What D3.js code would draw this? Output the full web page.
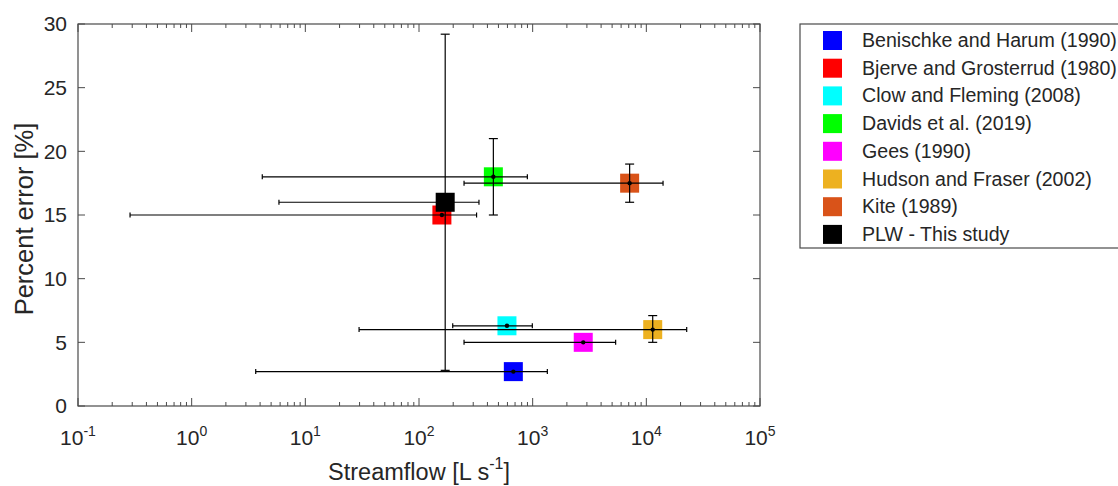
<!DOCTYPE html>
<html>
<head>
<meta charset="utf-8">
<script src="https://d3js.org/d3.v7.min.js"></script>
<style>
  body { margin: 0; background: #fff; }
  svg text { font-family: "Liberation Sans", Arial, sans-serif; fill: #262626; }
</style>
</head>
<body>
<svg id="chart" width="1118" height="486"></svg>
<script>
// data
var studies = ["Benischke and Harum (1990)", "Bjerve and Grosterrud (1980)", "Clow and Fleming (2008)",
  "Davids et al. (2019)", "Gees (1990)", "Hudson and Fraser (2002)", "Kite (1989)", "PLW - This study"];
var colors = ["#0000ff", "#ff0000", "#00ffff", "#00ff00", "#ff00ff", "#edb120", "#d95319", "#000000"];
var flow   = [676, 159, 594, 451, 2786, 11380, 7130, 170];
var flowLo = [3.66, 0.287, 198, 4.18, 249, 29.7, 249, 5.86];
var flowHi = [1346, 321, 993, 898, 5370, 22650, 14030, 337];
var pctErr = [2.7, 15.0, 6.3, 18.0, 5.0, 6.0, 17.5, 16.0];
var pctLo  = [2.7, 15.0, 6.3, 15.0, 5.0, 5.0, 16.0, 2.8];
var pctHi  = [2.7, 15.0, 6.3, 21.0, 5.0, 7.1, 19.0, 29.2];
var xTicks = [-1, 0, 1, 2, 3, 4, 5];
var yTicks = [0, 5, 10, 15, 20, 25, 30];

var margin = {left: 78, top: 24},
    width = 760 - 78,
    height = 406 - 24;

var svg = d3.select("#chart");
var g = svg.append("g").attr("transform", "translate(" + margin.left + "," + margin.top + ")");

var x = d3.scaleLog().domain([0.1, 1e5]).range([0, width]);
var y = d3.scaleLinear().domain([0, 30]).range([height, 0]);

var axisCol = "#4a4a4a";

// minor + major ticks on log axis (inward, top and bottom)
var minor = [];
for (var e = -1; e < 5; e++) {
  for (var k = 2; k <= 9; k++) minor.push(k * Math.pow(10, e));
}
var majors = xTicks.map(function(p) { return Math.pow(10, p); });

function logTicks(sel, yPos, dir) {
  sel.selectAll(null).data(minor).enter().append("line")
    .attr("x1", function(d) { return x(d); }).attr("x2", function(d) { return x(d); })
    .attr("y1", yPos).attr("y2", yPos + dir * 4)
    .attr("stroke", axisCol).attr("stroke-width", 1);
  sel.selectAll(null).data(majors).enter().append("line")
    .attr("x1", function(d) { return x(d); }).attr("x2", function(d) { return x(d); })
    .attr("y1", yPos).attr("y2", yPos + dir * 8)
    .attr("stroke", axisCol).attr("stroke-width", 1);
}
var tickG = g.append("g");
logTicks(tickG, height, -1);
logTicks(tickG, 0, 1);

tickG.selectAll(null).data(yTicks).enter().append("line")
  .attr("x1", 0).attr("x2", 7)
  .attr("y1", function(d) { return y(d); }).attr("y2", function(d) { return y(d); })
  .attr("stroke", axisCol);
tickG.selectAll(null).data(yTicks).enter().append("line")
  .attr("x1", width).attr("x2", width - 7)
  .attr("y1", function(d) { return y(d); }).attr("y2", function(d) { return y(d); })
  .attr("stroke", axisCol);

// box
g.append("rect").attr("x", 0).attr("y", 0).attr("width", width).attr("height", height)
  .attr("fill", "none").attr("stroke", axisCol).attr("stroke-width", 1.2);

// tick labels
var xl = g.append("g").selectAll(null).data(xTicks).enter().append("text")
  .attr("x", function(d) { return x(Math.pow(10, d)); })
  .attr("y", height + 39)
  .attr("text-anchor", "middle")
  .style("font-size", "21px");
xl.append("tspan").text("10");
xl.append("tspan").attr("dy", -9).style("font-size", "14px").text(function(d) { return d; });

g.append("g").selectAll(null).data(yTicks).enter().append("text")
  .attr("x", -11).attr("y", function(d) { return y(d); })
  .attr("dy", "0.35em")
  .attr("text-anchor", "end")
  .style("font-size", "21px")
  .text(function(d) { return d; });

// axis titles
var xt = g.append("text")
  .attr("x", width / 2).attr("y", height + 74)
  .attr("text-anchor", "middle")
  .style("font-size", "23.5px");
xt.append("tspan").text("Streamflow [L s");
xt.append("tspan").attr("dy", -11).style("font-size", "16px").text("-1");
xt.append("tspan").attr("dy", 11).text("]");

g.append("text")
  .attr("transform", "translate(-45," + (height / 2 + 4) + ") rotate(-90)")
  .attr("text-anchor", "middle")
  .style("font-size", "25.5px")
  .text("Percent error [%]");

// points
var sq = 19, cap = 4.5, hcap = 2.5;
studies.forEach(function(s, i) {
  var p = g.append("g");
  var cx = x(flow[i]), cy = y(pctErr[i]);
  p.append("rect")
    .attr("x", cx - sq / 2).attr("y", cy - sq / 2)
    .attr("width", sq).attr("height", sq)
    .attr("fill", colors[i]);
  // horizontal error bar
  p.append("line").attr("x1", x(flowLo[i])).attr("x2", x(flowHi[i]))
    .attr("y1", cy).attr("y2", cy).attr("stroke", "#000").attr("stroke-width", 1.2);
  [flowLo[i], flowHi[i]].forEach(function(v) {
    p.append("line").attr("x1", x(v)).attr("x2", x(v))
      .attr("y1", cy - hcap).attr("y2", cy + hcap).attr("stroke", "#000").attr("stroke-width", 1.2);
  });
  // vertical error bar
  if (pctHi[i] > pctLo[i]) {
    p.append("line").attr("x1", cx).attr("x2", cx)
      .attr("y1", y(pctLo[i])).attr("y2", y(pctHi[i])).attr("stroke", "#000").attr("stroke-width", 1.2);
    [pctLo[i], pctHi[i]].forEach(function(v) {
      p.append("line").attr("x1", cx - cap).attr("x2", cx + cap)
        .attr("y1", y(v)).attr("y2", y(v)).attr("stroke", "#000").attr("stroke-width", 1.2);
    });
  }
  p.append("circle").attr("cx", cx).attr("cy", cy).attr("r", 2.2).attr("fill", "#000");
});

// legend
var leg = svg.append("g").attr("transform", "translate(800,24)");
leg.append("rect").attr("x", 0).attr("y", 0).attr("width", 330).attr("height", 224)
  .attr("fill", "#fff").attr("stroke", axisCol).attr("stroke-width", 1.2);
var rows = leg.selectAll(null).data(studies).enter().append("g")
  .attr("transform", function(d, i) { return "translate(0," + (16 + i * 27.7) + ")"; });
rows.append("rect").attr("x", 23).attr("y", -9).attr("width", 19).attr("height", 19)
  .attr("fill", function(d, i) { return colors[i]; });
rows.append("text").attr("x", 62).attr("y", 0).attr("dy", "0.36em")
  .style("font-size", "19.6px")
  .text(function(d) { return d; });
</script>
</body>
</html>
